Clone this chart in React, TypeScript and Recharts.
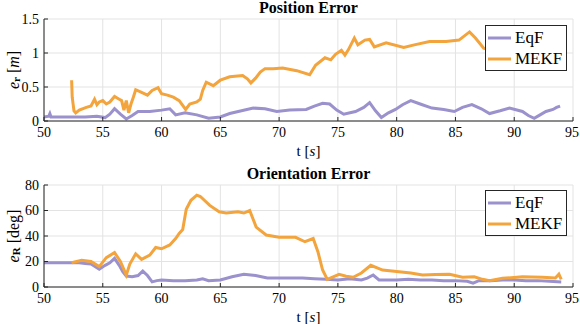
import React from 'react';
import { LineChart, Line, XAxis, YAxis, CartesianGrid, Legend, Label } from 'recharts';

const EQF_COLOR = '#9b91cd';
const MEKF_COLOR = '#f3a43c';
const FONT = '"Liberation Serif", "Times New Roman", serif';
const SERIF = { fontFamily: FONT };

const timeTicks = [50, 55, 60, 65, 70, 75, 80, 85, 90, 95];
const posTicks = [0, 0.5, 1, 1.5];
const oriTicks = [0, 20, 40, 60, 80];

// Position error, EqF
const posEqfT = [50, 50.4, 50.5, 50.6, 51.5, 52.5, 53.5, 54.5, 55.2, 55.6, 56, 56.5, 57, 57.5, 58, 59, 60, 60.7, 61.2, 62, 63, 64, 65, 65.8, 66.8, 67.8, 68.8, 69.8, 70.9, 72.3, 73, 73.7, 74.3, 74.9, 75.5, 76.5, 77.2, 77.7, 78.2, 78.7, 79.3, 79.9, 80.5, 81.2, 82, 83, 84, 84.9, 85.6, 86.4, 87.2, 87.9, 88.8, 89.6, 90.7, 91.2, 91.7, 92.2, 92.7, 93.3, 93.6, 93.9];
const posEqfV = [0.06, 0.07, 0.11, 0.06, 0.06, 0.06, 0.06, 0.07, 0.05, 0.1, 0.18, 0.1, 0.03, 0.08, 0.14, 0.14, 0.16, 0.18, 0.09, 0.12, 0.09, 0.04, 0.06, 0.11, 0.15, 0.19, 0.18, 0.14, 0.16, 0.17, 0.22, 0.26, 0.25, 0.16, 0.1, 0.14, 0.2, 0.27, 0.15, 0.05, 0.12, 0.17, 0.24, 0.3, 0.25, 0.19, 0.17, 0.14, 0.2, 0.24, 0.18, 0.11, 0.15, 0.19, 0.14, 0.08, 0.04, 0.09, 0.14, 0.17, 0.2, 0.22];

// Position error, MEKF
const posMekfT = [52.35, 52.4, 52.55, 52.7, 53, 53.6, 54, 54.3, 54.5, 54.7, 55, 55.3, 55.6, 56, 56.4, 56.6, 56.8, 57, 57.2, 57.4, 57.6, 57.8, 58.3, 58.8, 59.2, 59.7, 60, 60.5, 61, 61.5, 62.05, 62.4, 63, 63.3, 63.5, 63.8, 64.4, 65, 65.8, 66.9, 67.3, 67.6, 68, 68.4, 68.8, 69.5, 70.3, 71.5, 72.6, 73.1, 73.9, 74.4, 74.8, 75.3, 75.6, 75.9, 76.4, 76.7, 77.3, 77.7, 78.1, 79.1, 80.6, 81.5, 82.8, 84.2, 85.3, 86.2, 86.7, 87.4, 88.5, 90, 91.5, 93, 94];
const posMekfV = [0.6, 0.35, 0.15, 0.12, 0.16, 0.2, 0.22, 0.32, 0.24, 0.28, 0.3, 0.25, 0.28, 0.36, 0.32, 0.3, 0.16, 0.3, 0.12, 0.25, 0.35, 0.46, 0.42, 0.38, 0.45, 0.49, 0.4, 0.38, 0.35, 0.3, 0.17, 0.25, 0.28, 0.32, 0.45, 0.57, 0.52, 0.6, 0.65, 0.67, 0.62, 0.56, 0.63, 0.72, 0.77, 0.77, 0.78, 0.74, 0.68, 0.82, 0.93, 0.9, 0.98, 1.04, 0.97, 1.05, 1.22, 1.12, 1.19, 1.2, 1.09, 1.15, 1.08, 1.12, 1.17, 1.17, 1.19, 1.31, 1.22, 1.07, 1.02, 1.05, 1.03, 1.06, 1.04];

// Orientation error, EqF
const oriEqfT = [50, 51, 52, 53, 53.5, 54, 54.7, 55.2, 55.6, 56, 56.4, 56.7, 57, 57.5, 58, 58.4, 58.8, 59.2, 59.6, 60, 61, 62, 63, 63.5, 64, 65, 66, 67, 68, 69, 70, 71, 72, 73, 74, 75, 76, 77, 77.5, 78, 78.5, 79, 80, 81, 82, 83, 84, 85, 86, 86.5, 87, 88, 89, 90, 91, 92, 93, 94];
const oriEqfV = [19, 19, 19, 19, 18.5, 18, 14, 17, 19, 22.5, 17, 12, 8.6, 8, 9, 12.5, 9, 4, 5, 5.5, 5, 5, 5.5, 6.5, 5, 5.5, 8, 10, 9, 7, 7, 7, 7, 6.5, 6, 5.5, 6.5, 5.5, 7, 9.4, 5.5, 5.5, 5.5, 6, 5.5, 5.5, 5, 5, 4.5, 3, 5, 5, 5.5, 5.5, 5, 5, 4.5, 4];

// Orientation error, MEKF
const oriMekfT = [52.35, 53.2, 54, 54.7, 55.3, 56, 56.5, 57, 57.3, 57.8, 58.3, 59, 59.5, 60, 60.7, 61.2, 61.5, 61.8, 62.1, 62.5, 63, 63.3, 64.1, 64.9, 65.5, 66.5, 67, 67.5, 68.05, 68.9, 70, 71.4, 72.2, 72.9, 73.3, 73.7, 74.1, 74.6, 75.1, 75.7, 76.3, 77, 77.8, 78.8, 80.2, 81.2, 82.2, 83.3, 84.5, 85.6, 86.6, 87.3, 87.9, 89, 90.7, 91.5, 92.4, 93.5, 93.8, 94];
const oriMekfV = [19, 21, 20, 16, 23, 27, 20, 9.4, 18, 26, 21.7, 25, 31, 30, 33, 38, 42, 45, 61, 68, 72, 71, 64, 59, 58, 59, 58, 60, 47, 40.8, 39, 39, 35.5, 38, 27.7, 13.3, 6, 8, 10, 8.5, 7.6, 11, 17, 13.3, 12, 11, 9.4, 9.8, 10, 7.6, 8, 6, 5, 6.8, 8, 7.8, 7.6, 7, 10, 6];

const toRows = (t: number[], v: number[]) => t.map((x, i) => ({ t: x, v: v[i] }));

const XTick = ({ x, y, payload }: any) => (
  <text x={x} y={y} dy={11} textAnchor="middle" fontSize={14} fill="#000" style={SERIF}>
    {payload.value}
  </text>
);

const YTick = ({ x, y, payload }: any) => (
  <text x={x} y={y} dy={4.5} textAnchor="end" fontSize={14} fill="#000" style={SERIF}>
    {payload.value}
  </text>
);

const LegendBox = ({ payload }: any) => (
  <div style={{ border: '1px solid #262626', background: '#fff', width: 80, padding: '1px 0', fontSize: 17, fontFamily: FONT }}>
    {(payload || []).map((p: any) => (
      <div key={p.value} style={{ display: 'flex', alignItems: 'center', height: 21 }}>
        <svg width={25} height={6} style={{ marginLeft: 2 }}>
          <line x1={0} x2={23} y1={3} y2={3} stroke={p.color} strokeWidth={3} />
        </svg>
        <span style={{ marginLeft: 2, lineHeight: '21px' }}>{p.value}</span>
      </div>
    ))}
  </div>
);

interface PanelProps {
  title: string;
  eqf: { t: number; v: number }[];
  mekf: { t: number; v: number }[];
  yDomain: [number, number];
  yTicks: number[];
  yLabel: React.ReactNode;
  top: number;
  bottom: number;
  legendTop: number;
}

const Panel = ({ title, eqf, mekf, yDomain, yTicks, yLabel, top, bottom, legendTop }: PanelProps) => (
  <div style={{ position: 'relative', width: 580, height: 162 }}>
    <div style={{ position: 'absolute', left: 44, width: 529, top: top - 20, textAlign: 'center', fontWeight: 'bold', fontSize: 16, lineHeight: '17px', fontFamily: FONT }}>
      {title}
    </div>
    <LineChart width={580} height={162} margin={{ top, right: 7, bottom, left: 10 }}>
      <CartesianGrid stroke="#e3e3e3" strokeWidth={1} />
      <XAxis
        dataKey="t"
        type="number"
        domain={[50, 95]}
        ticks={timeTicks}
        allowDataOverflow
        height={30}
        stroke="#262626"
        tickSize={-4}
        tickMargin={9}
        tick={<XTick />}
      >
        <Label
          content={({ viewBox }: any) => (
            <text x={viewBox.x + viewBox.width / 2} y={viewBox.y + 35} textAnchor="middle" fontSize={15} fill="#000" style={SERIF}>
              t [<tspan fontStyle="italic">s</tspan>]
            </text>
          )}
        />
      </XAxis>
      <YAxis
        type="number"
        domain={yDomain}
        ticks={yTicks}
        allowDataOverflow
        width={34}
        stroke="#262626"
        tickSize={-4}
        tickMargin={9}
        tick={<YTick />}
      >
        <Label
          content={({ viewBox }: any) => {
            const cx = 13;
            const cy = viewBox.y + viewBox.height / 2;
            return (
              <text x={cx} y={cy} transform={`rotate(-90 ${cx} ${cy})`} textAnchor="middle" dominantBaseline="central" fontSize={16} fill="#000" style={SERIF}>
                {yLabel}
              </text>
            );
          }}
        />
      </YAxis>
      <Line data={eqf} dataKey="v" name="EqF" type="linear" stroke={EQF_COLOR} strokeWidth={3} dot={false} isAnimationActive={false} />
      <Line data={mekf} dataKey="v" name="MEKF" type="linear" stroke={MEKF_COLOR} strokeWidth={3} dot={false} isAnimationActive={false} />
      <Legend
        layout="vertical"
        align="center"
        verticalAlign="middle"
        content={<LegendBox />}
        wrapperStyle={{ left: 485, top: legendTop, width: 82 }}
      />
    </LineChart>
  </div>
);

export default function App() {
  return (
    <div style={{ position: 'absolute', left: 0, top: 0, width: 580, height: 324, background: '#fff', fontFamily: FONT }}>
      <Panel
        title="Position Error"
        eqf={toRows(posEqfT, posEqfV)}
        mekf={toRows(posMekfT, posMekfV)}
        yDomain={[0, 1.5]}
        yTicks={posTicks}
        yLabel={<><tspan fontStyle="italic">e</tspan><tspan fontSize={11} fontWeight="bold" dy={3}>r</tspan><tspan dy={-3}> [</tspan><tspan fontStyle="italic">m</tspan>]</>}
        top={19}
        bottom={11}
        legendTop={25}
      />
      <Panel
        title="Orientation Error"
        eqf={toRows(oriEqfT, oriEqfV)}
        mekf={toRows(oriMekfT, oriMekfV)}
        yDomain={[0, 80]}
        yTicks={oriTicks}
        yLabel={<><tspan fontStyle="italic">e</tspan><tspan fontSize={11} fontWeight="bold" dy={3}>R</tspan><tspan dy={-3}> [deg]</tspan></>}
        top={23}
        bottom={7}
        legendTop={28}
      />
    </div>
  );
}
